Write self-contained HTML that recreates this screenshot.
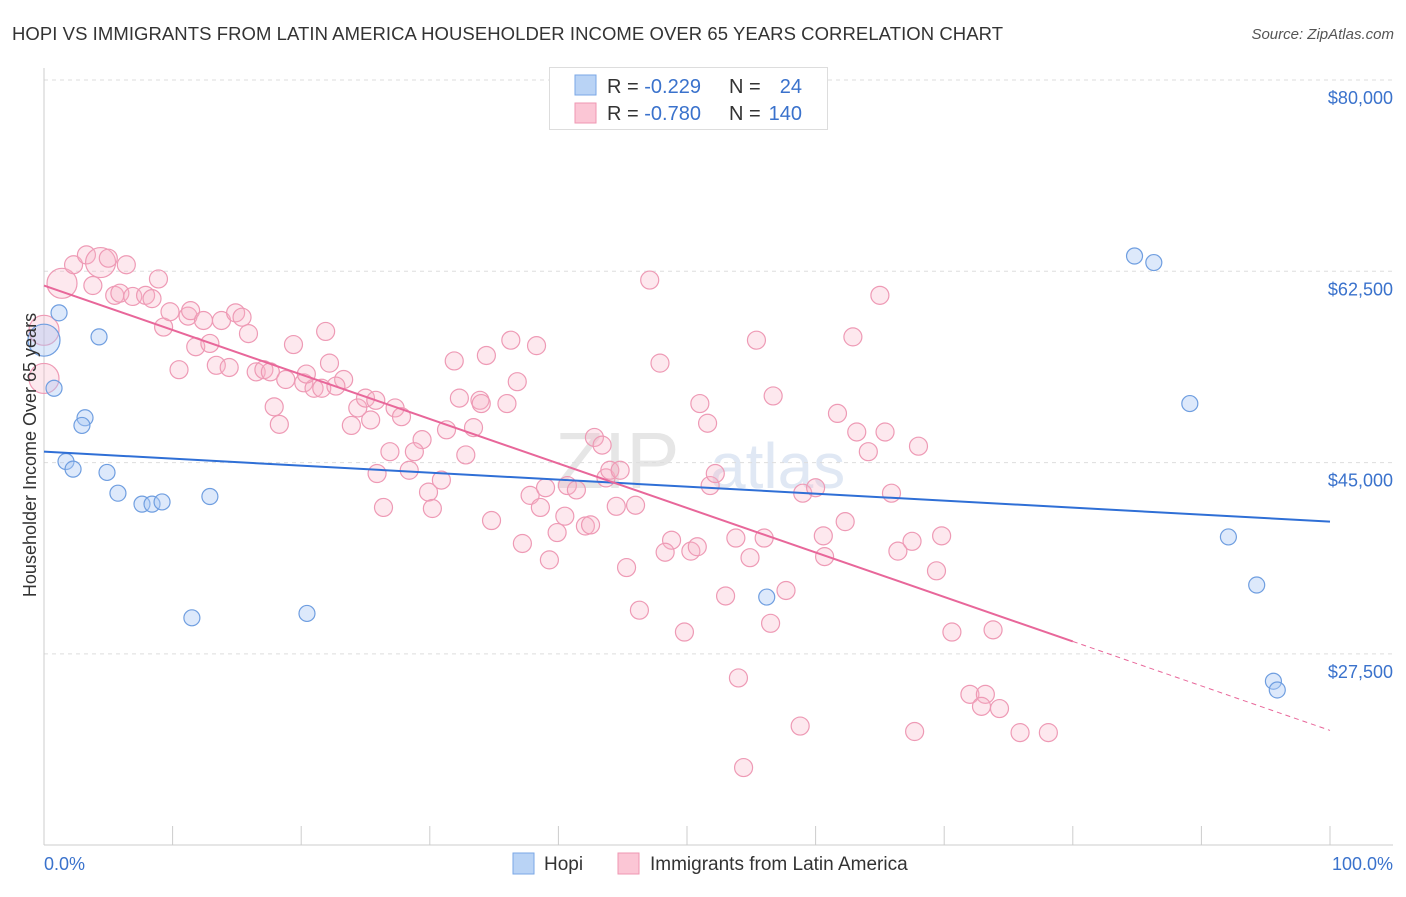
<!DOCTYPE html>
<html><head><meta charset="utf-8"><style>
body{margin:0;background:#fff;font-family:"Liberation Sans",sans-serif;}
svg text{font-family:"Liberation Sans",sans-serif;}
</style></head><body>
<svg id="chart" width="1406" height="892" xmlns="http://www.w3.org/2000/svg">
<text x="12" y="40" font-size="18.5" fill="#333" textLength="991">HOPI VS IMMIGRANTS FROM LATIN AMERICA HOUSEHOLDER INCOME OVER 65 YEARS CORRELATION CHART</text>
<text x="1394" y="39" font-size="15" fill="#555" font-style="italic" text-anchor="end">Source: ZipAtlas.com</text>
<text x="555" y="488" font-size="80" fill="#e6e6e6" font-family="Liberation Serif">ZIP</text>
<text x="710" y="488" font-size="64" fill="#e0e8f4">atlas</text>
<g id="grid"></g>
<g id="axes"></g>
<g id="pts"></g>
<g id="lines"></g>
<text x="36" y="455" font-size="18" fill="#333" text-anchor="middle" transform="rotate(-90 36 455)">Householder Income Over 65 years</text>
<text x="44" y="870" font-size="18" fill="#3a72cc">0.0%</text>
<text x="1393" y="870" font-size="18" fill="#3a72cc" text-anchor="end">100.0%</text>
<g>
<rect x="549.5" y="67.5" width="278" height="62" fill="#fff" stroke="#ddd"/>
<rect x="575" y="75" width="21" height="20" fill="#b9d3f5" stroke="#7aa7e6"/>
<rect x="575" y="103" width="21" height="20" fill="#fbc6d5" stroke="#ef97b2"/>
<text x="607" y="93" font-size="20" fill="#333">R = <tspan fill="#3a72cc">-0.229</tspan></text>
<text x="729" y="93" font-size="20" fill="#333">N =</text><text x="802" y="93" font-size="20" fill="#3a72cc" text-anchor="end">24</text>
<text x="607" y="120" font-size="20" fill="#333">R = <tspan fill="#3a72cc">-0.780</tspan></text>
<text x="729" y="120" font-size="20" fill="#333">N =</text><text x="802" y="120" font-size="20" fill="#3a72cc" text-anchor="end">140</text>
</g>
<g>
<rect x="513" y="853" width="21" height="21" fill="#b9d3f5" stroke="#7aa7e6"/>
<text x="544" y="870" font-size="19" fill="#333">Hopi</text>
<rect x="618" y="853" width="21" height="21" fill="#fbc6d5" stroke="#ef97b2"/>
<text x="650" y="870" font-size="19" fill="#333">Immigrants from Latin America</text>
</g>
</svg>
<script>
const yTicks=[80000,62500,45000,27500];
const yTickLabels=["$80,000","$62,500","$45,000","$27,500"];
const hopiX=[0,1.17,0.78,4.28,3.19,2.95,1.71,2.26,4.9,5.75,7.62,8.4,9.18,12.9,11.5,20.45,84.8,86.3,89.1,92.1,94.3,56.2,95.6,95.9];
const hopiY=[56.2,58.7,51.8,56.5,49.1,48.4,45.1,44.4,44.1,42.2,41.2,41.2,41.4,41.9,30.8,31.2,63.9,63.3,50.4,38.2,33.8,32.7,25.0,24.2];
const latX=[0,0,1.4,2.3,3.3,4.4,5.0,6.4,3.8,5.5,5.9,6.9,7.9,8.4,8.9,9.3,9.8,11.2,11.4,12.4,11.8,12.9,13.8,14.9,15.4,15.9,10.5,13.4,14.4,16.5,17.1,17.6,19.4,21.9,22.2,23.3,18.8,20.2,21.0,21.6,17.9,18.3,20.4,22.7,24.4,25.0,25.8,23.9,25.4,27.3,27.8,29.4,26.9,28.8,28.4,25.9,26.4,29.9,30.2,30.9,31.3,32.8,32.3,33.9,33.4,34.4,34.0,36.0,36.3,38.3,36.8,31.9,34.8,37.2,37.8,38.6,39.3,39.0,39.9,40.5,40.7,41.4,42.1,42.5,42.8,43.4,43.7,44.0,44.8,44.5,46.0,45.3,46.3,47.1,47.9,48.8,48.3,50.3,50.8,49.8,51.0,51.6,51.8,52.2,53.0,53.8,54.9,55.4,56.0,56.5,56.7,57.7,54.0,58.8,54.4,59.0,60.0,60.6,60.7,61.7,62.3,62.9,63.2,64.1,65.0,65.4,65.9,66.4,67.5,68.0,69.4,69.8,70.6,72.0,73.2,72.9,74.3,73.8,75.9,78.1,67.7];
const latY=[57.1,52.7,61.4,63.1,64.0,63.3,63.7,63.1,61.2,60.3,60.5,60.2,60.3,60.0,61.8,57.4,58.8,58.4,58.9,58.0,55.6,55.9,58.0,58.7,58.3,56.8,53.5,53.9,53.7,53.3,53.5,53.3,55.8,57.0,54.1,52.6,52.6,52.3,51.8,51.8,50.1,48.5,53.1,52.0,50.0,50.9,50.7,48.4,48.9,50.0,49.2,47.1,46.0,46.0,44.3,44.0,40.9,42.3,40.8,43.4,48.0,45.7,50.9,50.7,48.2,54.8,50.4,50.4,56.2,55.7,52.4,54.3,39.7,37.6,42.0,40.9,36.1,42.7,38.6,40.1,42.9,42.5,39.2,39.3,47.3,46.6,43.6,44.3,44.3,41.0,41.1,35.4,31.5,61.7,54.1,37.9,36.8,36.9,37.3,29.5,50.4,48.6,42.9,44.0,32.8,38.1,36.3,56.2,38.1,30.3,51.1,33.3,25.3,20.9,17.1,42.2,42.7,38.3,36.4,49.5,39.6,56.5,47.8,46.0,60.3,47.8,42.2,36.9,37.8,46.5,35.1,38.3,29.5,23.8,23.8,22.7,22.5,29.7,20.3,20.3,20.4];
const bigLat=[0,1,2,5];
const hopiTrend=[46.0,39.6];
const latTrend=[61.2,20.5];
const latSolidEnd=80;
const NS="http://www.w3.org/2000/svg";
function sx(p){return 44+p*12.86;}
function sy(v){return 80+(80000-v)/17500*191.3;}
function mk(tag,at,parent){const e=document.createElementNS(NS,tag);for(const k in at)e.setAttribute(k,at[k]);document.getElementById(parent).appendChild(e);return e;}
yTicks.forEach((t,i)=>{
  const l=mk('line',{x1:44,x2:1393,y1:sy(t),y2:sy(t),stroke:'#ddd','stroke-dasharray':'4 4'},'grid');
  
  
  const tx=mk('text',{x:1393,y:sy(t)+24,'font-size':18,fill:'#3a72cc','text-anchor':'end'},'grid');
  tx.textContent=yTickLabels[i];
  
  
});
const ya=mk('line',{x1:44,x2:44,y1:68,y2:845,stroke:'#ccc'},'axes');


const xa=mk('line',{x1:44,x2:1393,y1:845,y2:845,stroke:'#ccc'},'axes');


for(let i=0;i<=10;i++){
  const t=mk('line',{x1:sx(i*10),x2:sx(i*10),y1:826,y2:845,stroke:'#ccc'},'axes');
  
  
}
latX.forEach((x,i)=>{
  const c=mk('circle',{cx:sx(x),cy:sy(latY[i]*1000),r:bigLat.includes(i)?15:9,fill:'rgba(248,180,200,0.3)',stroke:'#ee9ab5','stroke-width':1.2},'pts');
  
  
});
hopiX.forEach((x,i)=>{
  const c=mk('circle',{cx:sx(x),cy:sy(hopiY[i]*1000),r:i==0?16:8,fill:'rgba(170,200,245,0.4)',stroke:'#6f9ee0','stroke-width':1.2},'pts');
  
  
});
function lv(tr,p){return (tr[0]+(tr[1]-tr[0])*p/100)*1000;}
const hl=mk('line',{x1:sx(0),y1:sy(lv(hopiTrend,0)),x2:sx(100),y2:sy(lv(hopiTrend,100)),stroke:'#2f6fd6','stroke-width':2},'lines');


const pl=mk('line',{x1:sx(0),y1:sy(lv(latTrend,0)),x2:sx(latSolidEnd),y2:sy(lv(latTrend,latSolidEnd)),stroke:'#e8679a','stroke-width':2},'lines');


const pd=mk('line',{x1:sx(latSolidEnd),y1:sy(lv(latTrend,latSolidEnd)),x2:sx(100),y2:sy(lv(latTrend,100)),stroke:'#e8679a','stroke-width':1,'stroke-dasharray':'5 4'},'lines');


</script>
</body></html>
